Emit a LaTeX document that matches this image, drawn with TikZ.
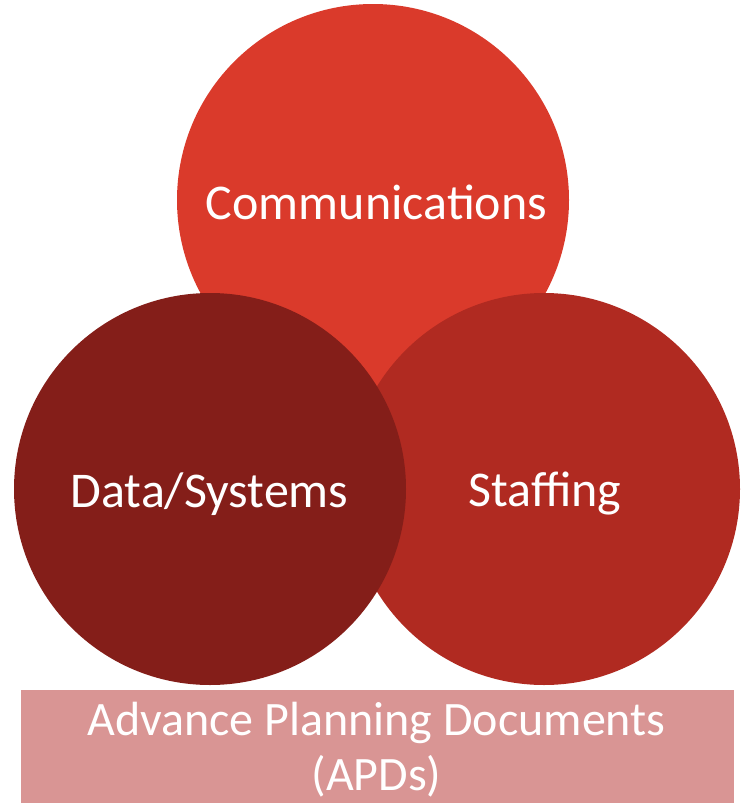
\documentclass[tikz,border=0pt]{standalone}
\usepackage{fontspec}
\setmainfont{Carlito}
\definecolor{topred}{HTML}{DA3A2B}
\definecolor{leftred}{HTML}{841E19}
\definecolor{rightred}{HTML}{B02A21}
\definecolor{basepink}{HTML}{D99594}
\begin{document}
\begin{tikzpicture}[x=1pt,y=-1pt,
  bubble/.style={circle, minimum size=392pt, inner sep=0pt, draw=none},
  bubbletext/.style={text=white, inner sep=0pt, font=\fontsize{50}{54}\selectfont},
  basebox/.style={rectangle, fill=basepink, draw=none, inner sep=0pt, minimum width=713pt, minimum height=113pt},
  basetext/.style={text=white, inner sep=0pt, anchor=base, font=\fontsize{48}{54}\selectfont}]
\useasboundingbox (0,0) rectangle (744,803);
\node[bubble, fill=topred] (comm) at (373,200) {};
\node[bubble, fill=rightred] (staff) at (544,489) {};
\node[bubble, fill=leftred] (data) at (210,489) {};
\node[bubbletext] (commt) at (376.5,202) {Communications};
\node[bubbletext] (datat) at (209.5,494) {Data/Systems};
\node[bubbletext] (stafft) at (545,494) {Staffing};
\node[basebox] (apd) at (377.5,746.5) {};
\node[basetext] (apdone) at (376.5,735) {Advance Planning Documents};
\node[basetext] (apdtwo) at (376.5,790) {(APDs)};
\end{tikzpicture}
\end{document}
